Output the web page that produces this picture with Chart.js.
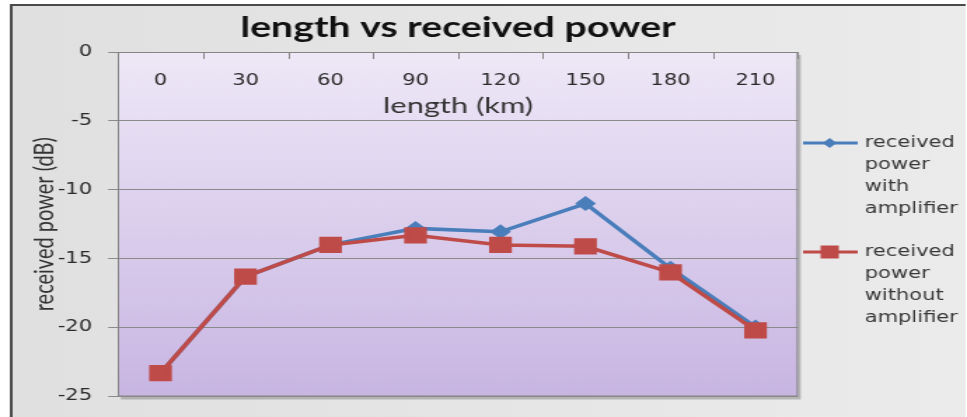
<!DOCTYPE html>
<html>
<head>
<meta charset="utf-8">
<script src="https://cdn.jsdelivr.net/npm/chart.js@4.4.0/dist/chart.umd.min.js"></script>
<style>
    html, body { margin: 0; padding: 0; background: #fff; overflow: hidden; }
    /* the original picture is stretched sideways, so draw narrow and stretch */
    #wrap { width: 690px; height: 417px; transform: scaleX(1.40145); transform-origin: 0 0; }
</style>
</head>
<body>
<div id="wrap"><canvas id="powerChart"></canvas></div>
<script>
// data
const lengths = ['0', '30', '60', '90', '120', '150', '180', '210'];
const withAmp = [-23.3, -16.3, -14.0, -12.8, -13.05, -11.0, -15.7, -19.95];
const withoutAmp = [-23.3, -16.3, -14.0, -13.3, -14.0, -14.1, -16.0, -20.2];
const yTicks = [0, -5, -10, -15, -20, -25];
const seriesNames = ['received power with amplifier', 'received power without amplifier'];

const BLUE = '#4a7ebb';
const RED = '#be4b48';

// frame, grey backdrop, plot gradient + shadow
const backdrop = {
    id: 'backdrop',
    beforeDraw(chart) {
        const { ctx, chartArea: a } = chart;
        ctx.save();
        ctx.fillStyle = '#ffffff';
        ctx.fillRect(0, 0, chart.width, chart.height);
        const g = ctx.createLinearGradient(7, 0, 689, 0);
        g.addColorStop(0, '#e0e0e0');
        g.addColorStop(1, '#ebebeb');
        ctx.fillStyle = g;
        ctx.fillRect(7, 5, 682, chart.height);
        ctx.strokeStyle = '#4a4a4a';
        ctx.lineWidth = 2;
        ctx.beginPath();
        ctx.moveTo(8, chart.height + 2);
        ctx.lineTo(8, 5);
        ctx.lineTo(689, 5);
        ctx.stroke();

        // shadow
        ctx.fillStyle = 'rgba(120,120,120,0.45)';
        ctx.fillRect(a.left + 2, a.top + 3, a.width, a.height);
        const pg = ctx.createLinearGradient(0, a.top, 0, a.bottom);
        pg.addColorStop(0, '#eee8f7');
        pg.addColorStop(1, '#c8b5e2');
        ctx.fillStyle = pg;
        ctx.fillRect(a.left, a.top, a.width, a.height);
        ctx.restore();
    },
    afterDatasetsDraw(chart) {
        const { ctx, chartArea: a } = chart;
        const xs = chart.scales.x;
        ctx.save();
        ctx.strokeStyle = '#858585';
        ctx.lineWidth = 1;
        ctx.beginPath();
        ctx.moveTo(a.right - 0.5, a.top);
        ctx.lineTo(a.right - 0.5, a.bottom - 0.5);
        ctx.lineTo(a.left, a.bottom - 0.5);
        // category tick marks hang down from the top axis
        const n = lengths.length;
        const step = xs.getPixelForValue(1) - xs.getPixelForValue(0);
        const first = xs.getPixelForValue(0) - step / 2;
        for (let i = 0; i <= n; i++) {
            const x = Math.round(first + i * step) + 0.5;
            ctx.moveTo(x, a.top);
            ctx.lineTo(x, a.top + 7);
        }
        ctx.stroke();
        ctx.restore();
    }
};

// legend on the right, words stacked
const sideLegend = {
    id: 'sideLegend',
    afterDraw(chart) {
        const { ctx } = chart;
        ctx.save();
        ctx.font = '15px "DejaVu Sans"';
        ctx.textBaseline = 'middle';
        ctx.textAlign = 'left';
        const tops = [143, 252];
        chart.data.datasets.forEach((ds, i) => {
            const y = tops[i];
            const cx = 592;
            ctx.strokeStyle = ds.borderColor;
            ctx.lineWidth = 3;
            ctx.beginPath();
            ctx.moveTo(573, y);
            ctx.lineTo(612, y);
            ctx.stroke();
            ctx.fillStyle = ds.pointBackgroundColor;
            ctx.beginPath();
            if (i === 0) {
                const r = 5;
                ctx.moveTo(cx, y - r); ctx.lineTo(cx + r, y); ctx.lineTo(cx, y + r); ctx.lineTo(cx - r, y);
            } else {
                const h = 6.5;
                ctx.rect(cx - h, y - h, 2 * h, 2 * h);
            }
            ctx.fill();
            ctx.fillStyle = '#383838';
            ds.label.split(' ').forEach((w, k) => ctx.fillText(w, 617, y + k * 22));
        });
        ctx.restore();
    }
};

new Chart(document.getElementById('powerChart'), {
    type: 'line',
    data: {
        labels: lengths,
        datasets: [
            {
                label: seriesNames[0],
                data: withAmp,
                order: 1,
                borderColor: BLUE,
                backgroundColor: BLUE,
                pointBackgroundColor: BLUE,
                pointBorderColor: BLUE,
                borderWidth: 3.5,
                pointStyle: 'rectRot',
                pointRadius: 5,
                tension: 0
            },
            {
                label: seriesNames[1],
                data: withoutAmp,
                order: 0,
                borderColor: RED,
                backgroundColor: RED,
                pointBackgroundColor: RED,
                pointBorderColor: RED,
                borderWidth: 3.5,
                pointStyle: 'rect',
                pointRadius: 9,
                tension: 0
            }
        ]
    },
    options: {
        responsive: true,
        maintainAspectRatio: false,
        animation: false,
        layout: {
            padding: { left: 0, right: 120.6, top: 0, bottom: 14 }
        },
        plugins: {
            legend: { display: false },
            tooltip: { enabled: false },
            title: {
                display: true,
                fullSize: false,
                text: 'length vs received power',
                color: '#111',
                font: { family: 'Lato', size: 28, weight: 'bold' },
                padding: { top: 11, bottom: 7.4 }
            }
        },
        scales: {
            x: {
                position: { y: 0 },
                offset: true,
                grid: {
                    offset: true,
                    drawOnChartArea: false,
                    drawTicks: false
                },
                border: { display: true, color: '#858585' },
                ticks: {
                    color: '#2a2a2a',
                    padding: 20,
                    font: { family: 'DejaVu Sans', size: 15 }
                },
                title: {
                    display: true,
                    text: 'length (km)',
                    color: '#333',
                    font: { family: 'Lato', size: 22 },
                    padding: { top: -17, bottom: 0 }
                }
            },
            y: {
                min: -25,
                max: 0,
                afterBuildTicks: s => { s.ticks = yTicks.map(v => ({ value: v })); },
                afterFit: s => { s.width = 84.2; },
                grid: {
                    color: '#8a8a8a',
                    tickLength: 7
                },
                border: { display: true, color: '#858585' },
                ticks: {
                    color: '#2a2a2a',
                    padding: 11.5,
                    font: { family: 'DejaVu Sans', size: 15 }
                },
                title: {
                    display: true,
                    text: 'received power (dB)',
                    color: '#333',
                    font: { family: 'Lato', size: 20 },
                    padding: { top: 20, bottom: 0 }
                }
            }
        }
    },
    plugins: [backdrop, sideLegend]
});
</script>
</body>
</html>
